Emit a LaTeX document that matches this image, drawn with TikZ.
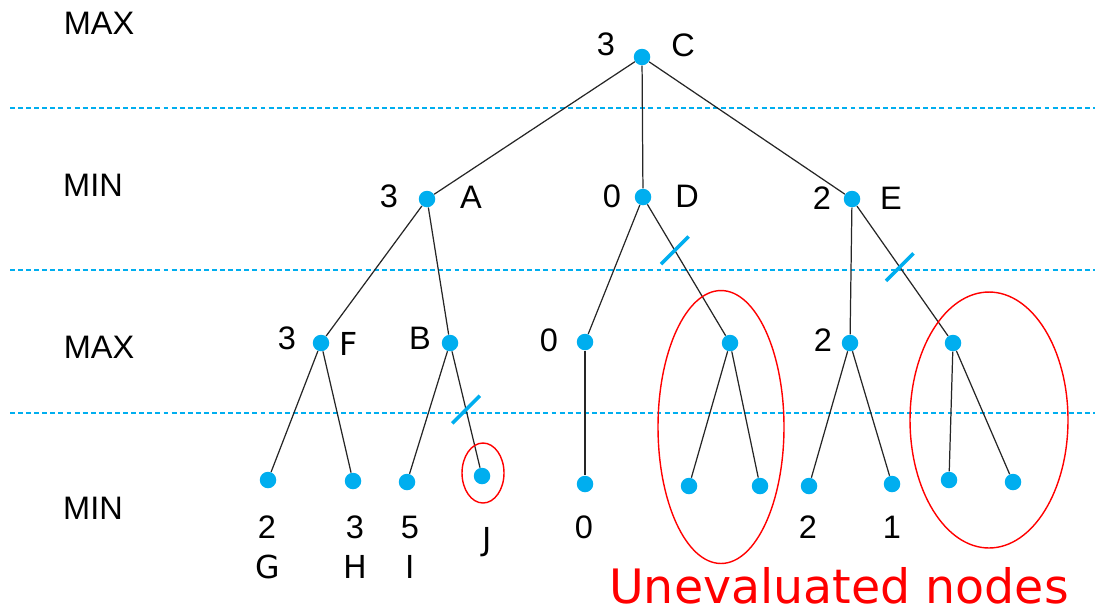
\documentclass[tikz,border=0pt]{standalone}
\usepackage{fontspec}
\usepackage{xcolor}
\usetikzlibrary{shapes,positioning}

\newfontfamily\arialfont{Liberation Sans}
\newfontfamily\verdfont{DejaVu Sans}
\definecolor{dotblue}{RGB}{0,174,239}

\begin{document}
\begin{tikzpicture}[
    x=0.02cm, y=-0.02cm,
    dot/.style={circle, fill=dotblue, inner sep=0pt, minimum size=0.33cm},
    edge/.style={draw=black!85, line width=0.7pt},
    layer/.style={draw=dotblue, line width=0.8pt, dash pattern=on 2.8pt off 1.8pt},
    prune/.style={draw=dotblue, line width=2pt, inner sep=0pt, minimum width=0pt, minimum height=0.78cm, rotate=-45},
    unev/.style={ellipse, draw=red, line width=0.8pt, inner sep=0pt},
    val/.style={font=\arialfont\fontsize{18.5}{20}\selectfont, inner sep=0pt},
    tag/.style={font=\verdfont\fontsize{18}{20}\selectfont, inner sep=0pt}
]
\useasboundingbox (0,0) rectangle (1101,613);

% Layer separators
\foreach \ly in {108,270,413}
  \draw[layer] (10,\ly) -- (1095,\ly);

% Layer names
\node[val] (lmax1) at (99,23) {MAX};
\node[val] (lmin1) at (93,185) {MIN};
\node[val] (lmax2) at (99,347) {MAX};
\node[val] (lmin2) at (93,508) {MIN};

% Root
\node[dot] (C) at (642,57) {};

% MIN level
\node[dot] (A) at (427,199) {};
\node[dot] (D) at (643,197) {};
\node[dot] (E) at (852,199) {};

% MAX level
\node[dot] (F) at (321,343) {};
\node[dot] (B) at (450,343) {};
\node[dot] (D1) at (585,342) {};
\node[dot] (D2) at (730,343) {};
\node[dot] (E1) at (850,343) {};
\node[dot] (E2) at (953,343) {};

% Leaves
\node[dot] (G) at (268,480) {};
\node[dot] (H) at (353,481) {};
\node[dot] (I) at (407,482) {};
\node[dot] (J) at (482,476) {};
\node[dot] (D1a) at (585,484) {};
\node[dot] (D2a) at (689,486) {};
\node[dot] (D2b) at (760,486) {};
\node[dot] (E1a) at (809,486) {};
\node[dot] (E1b) at (892,484) {};
\node[dot] (E2a) at (949,480) {};
\node[dot] (E2b) at (1013,482) {};

% Edges
\draw[edge] (C) -- (A);
\draw[edge] (C) -- (D);
\draw[edge] (C) -- (E);
\draw[edge] (A) -- (F);
\draw[edge] (A) -- (B);
\draw[edge] (D) -- (D1);
\draw[edge] (D) -- node[prune, pos=0.35] (cutD) {} (D2);
\draw[edge] (E) -- (E1);
\draw[edge] (E) -- node[prune, pos=0.47] (cutE) {} (E2);
\draw[edge] (F) -- (G);
\draw[edge] (F) -- (H);
\draw[edge] (B) -- (I);
\draw[edge] (B) -- node[prune, pos=0.5] (cutB) {} (J);
\draw[edge] (D1) -- (D1a);
\draw[edge] (D2) -- (D2a);
\draw[edge] (D2) -- (D2b);
\draw[edge] (E1) -- (E1a);
\draw[edge] (E1) -- (E1b);
\draw[edge] (E2) -- (E2a);
\draw[edge] (E2) -- (E2b);

% Values and names
\node[val] (vC) at (606,44) {3};
\node[val] (nC) at (683,45) {C};
\node[val] (vA) at (389,196) {3};
\node[val] (nA) at (471,197) {A};
\node[val] (vD) at (612,196) {0};
\node[val] (nD) at (687,196) {D};
\node[val] (vE) at (822,198) {2};
\node[val] (nE) at (891,198) {E};
\node[val] (vF) at (287,338) {3};
\node[tag] (nF) at (349,344) {F};
\node[val] (nB) at (420,338) {B};
\node[val] (vD1) at (549,340) {0};
\node[val] (vE1) at (823,340) {2};

% Leaf values and names
\node[val] (vG) at (267,527) {2};
\node[tag] (nG) at (268,567) {G};
\node[val] (vH) at (355,527) {3};
\node[tag] (nH) at (355,567) {H};
\node[val] (vI) at (410,527) {5};
\node[tag] (nI) at (410,567) {I};
\node[tag] (nJ) at (487,542) {J};
\node[val] (vD1a) at (584,527) {0};
\node[val] (vE1a) at (808,527) {2};
\node[val] (vE1b) at (892,527) {1};

% Unevaluated groups
\node[unev, minimum width=0.84cm, minimum height=1.2cm] (uJ) at (483,473) {};
\node[unev, minimum width=2.52cm, minimum height=5.46cm] (uD) at (721,427) {};
\node[unev, minimum width=3.16cm, minimum height=5.12cm] (uE) at (989,420) {};
\node[anchor=base, text=red, inner sep=0pt, font=\verdfont\fontsize{27}{30}\selectfont] (note) at (839,603) {Unevaluated nodes};

\end{tikzpicture}
\end{document}
